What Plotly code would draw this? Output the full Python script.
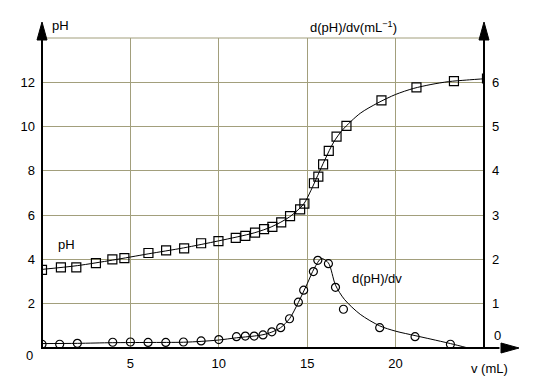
import plotly.graph_objects as go

# ---- data ----
ph_v = [0, 1.07, 1.94, 3.05, 3.98, 4.66, 6.02, 7.02, 8.04, 9.0, 9.98, 10.96, 11.5, 12.05,
        12.56, 13.03, 13.53, 14.03, 14.6, 14.84, 15.38, 15.63, 15.9, 16.22, 16.66, 17.22,
        19.2, 21.18, 23.3, 25.17]
ph_val = [3.53, 3.64, 3.64, 3.83, 4.0, 4.06, 4.29, 4.41, 4.5, 4.73, 4.83, 4.97, 5.06, 5.21,
          5.37, 5.47, 5.67, 5.96, 6.26, 6.52, 7.44, 7.74, 8.29, 8.9, 9.55, 10.03,
          11.18, 11.77, 12.05, 12.17]

# fitted pH curve
ph_fit_v = [0, 2, 4, 6, 8, 10, 12, 13, 14, 14.8, 15.2, 15.6, 16.0, 16.5, 17.0, 18.0, 19.0,
            20.0, 21.0, 22.0, 23.0, 24.0, 25.2]
ph_fit = [3.55, 3.72, 3.97, 4.25, 4.52, 4.84, 5.2, 5.48, 5.92, 6.5, 7.1, 7.8, 8.5, 9.3, 9.85,
          10.6, 11.07, 11.45, 11.72, 11.9, 12.03, 12.1, 12.17]

d_v = [0, 1, 2, 4, 5, 6, 7, 8, 9, 10, 11, 11.5, 12, 12.5, 13, 13.5, 14, 14.5, 14.8, 15.35,
       15.6, 16.2, 16.6, 17.05, 19.1, 21.1, 23.1]
d_val = [0.085, 0.085, 0.105, 0.13, 0.135, 0.125, 0.125, 0.135, 0.16, 0.19, 0.255, 0.27, 0.27,
         0.295, 0.365, 0.46, 0.66, 1.035, 1.305, 1.725, 1.98, 1.905, 1.37, 0.875, 0.46, 0.255,
         0.085]

# fitted derivative curve
d_fit_v = [0, 2, 4, 6, 8, 9, 10, 11, 12, 12.5, 13, 13.5, 14, 14.5, 15, 15.4, 15.8, 16.2, 16.6,
           17.1, 18, 19.1, 20, 21.1, 22, 23.1, 24.1]
d_fit = [0.1, 0.105, 0.12, 0.125, 0.13, 0.15, 0.18, 0.23, 0.27, 0.3, 0.36, 0.46, 0.66, 1.03,
         1.45, 1.8, 2.02, 1.92, 1.42, 1.1, 0.76, 0.5, 0.38, 0.28, 0.2, 0.1, 0.0]

left_ticks = [2, 4, 6, 8, 10, 12]
right_ticks = [1, 2, 3, 4, 5, 6]
x_ticks = [5, 10, 15, 20]

FONT = "Arial, Liberation Sans, sans-serif"
GRID = "#a29f7c"

fig = go.Figure()

fig.add_trace(go.Scatter(x=ph_fit_v, y=ph_fit, mode="lines",
                         line=dict(color="black", width=1, shape="spline", smoothing=0.8),
                         hoverinfo="skip", showlegend=False))
fig.add_trace(go.Scatter(x=ph_v, y=ph_val, mode="markers",
                         marker=dict(symbol="square-open", size=9, color="black",
                                     line=dict(width=1.2, color="black")),
                         showlegend=False))
fig.add_trace(go.Scatter(x=d_fit_v, y=d_fit, mode="lines", yaxis="y2",
                         line=dict(color="black", width=1, shape="spline", smoothing=0.8),
                         hoverinfo="skip", showlegend=False))
fig.add_trace(go.Scatter(x=d_v, y=d_val, mode="markers", yaxis="y2",
                         marker=dict(symbol="circle-open", size=8, color="black",
                                     line=dict(width=1.2, color="black")),
                         showlegend=False))

fig.update_layout(
    width=540, height=382,
    margin=dict(l=42, r=56, t=38, b=34),
    paper_bgcolor="white", plot_bgcolor="white",
    font=dict(family=FONT, size=13, color="black"),
    xaxis=dict(range=[0, 25], tickvals=x_ticks, showgrid=True, gridcolor=GRID, gridwidth=1,
               zeroline=False, showline=False, ticks="", ticklabelstandoff=6,
               tickfont=dict(size=13)),
    yaxis=dict(range=[0, 14], tickvals=left_ticks,
               showgrid=True, gridcolor=GRID, gridwidth=1, zeroline=False, showline=False,
               ticks="", ticklabelstandoff=6, tickfont=dict(size=13)),
    yaxis2=dict(range=[0, 7], overlaying="y", side="right", tickvals=right_ticks,
                showgrid=False, zeroline=False, showline=False, ticks="",
                ticklabelstandoff=7, tickfont=dict(size=13)),
)

# top gridline at pH 14
fig.add_shape(type="line", xref="paper", yref="paper", x0=0, x1=1, y0=1, y1=1,
              line=dict(color=GRID, width=1), layer="below")

# axes with arrows (paper coordinates)
H = 310.0
W = 442.0
ax_line = dict(color="black", width=2)
fig.add_shape(type="line", xref="paper", yref="paper", x0=0, x1=0, y0=0, y1=1.0, line=ax_line)
fig.add_shape(type="line", xref="paper", yref="paper", x0=1, x1=1, y0=0, y1=1.0, line=ax_line)
fig.add_shape(type="line", xref="paper", yref="paper", x0=-1 / W, x1=1.035, y0=0, y1=0,
              line=ax_line)
# arrowheads
for xc in (0, 1):
    fig.add_shape(type="path", xref="paper", yref="paper",
                  path=f"M {xc - 5/W} {1 - 2/H} L {xc + 5/W} {1 - 2/H} L {xc} {1 + 16/H} Z",
                  fillcolor="black", line=dict(color="black", width=1))
fig.add_shape(type="path", xref="paper", yref="paper",
              path=f"M {1 + 17/W} {5/H} L {1 + 17/W} {-5/H} L {1 + 35/W} 0 Z",
              fillcolor="black", line=dict(color="black", width=1))

ann = [
    dict(text="pH", x=50 / 540, y=1 - 25 / 382, xanchor="left"),
    dict(text="d(pH)/dv(mL<sup>−1</sup>)", x=308 / 540, y=1 - 27 / 382, xanchor="left"),
    dict(text="pH", x=56 / 540, y=1 - 244 / 382, xanchor="left"),
    dict(text="d(pH)/dv", x=350 / 540, y=1 - 278 / 382, xanchor="left"),
    dict(text="v (mL)", x=469 / 540, y=1 - 368 / 382, xanchor="left"),
    dict(text="0", x=35 / 540, y=1 - 355 / 382, xanchor="right"),
    dict(text="0", x=492 / 540, y=1 - 335 / 382, xanchor="left"),
]
for a in ann:
    fig.add_annotation(xref="paper", yref="paper", showarrow=False, yanchor="middle",
                       font=dict(family=FONT, size=13, color="black"), **a)

# annotations positioned in full-figure fractions -> convert to paper (plot area) coords
for a in fig.layout.annotations:
    fx, fy = a.x, a.y
    px = fx * 540
    py = (1 - fy) * 382
    a.x = (px - 42) / W
    a.y = (347.7 - py) / H

fig.write_html("out.html")
